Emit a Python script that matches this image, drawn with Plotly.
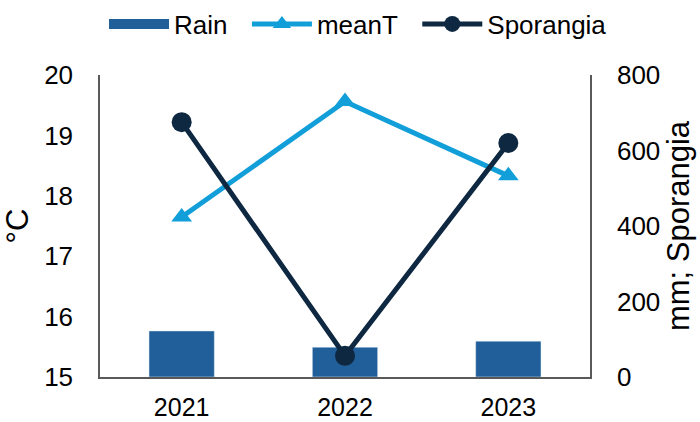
import plotly.graph_objects as go

years = ["2021", "2022", "2023"]
rain = [122, 79, 95]
mean_t = [17.65, 19.56, 18.33]
sporangia = [675, 56, 620]

left_ticks = [15, 16, 17, 18, 19, 20]
right_ticks = [0, 200, 400, 600, 800]

FONT = "Liberation Sans, Arial, sans-serif"
C_RAIN = "#215F9A"
C_T = "#129FD9"
C_SP = "#0E2841"
AX = "#595959"
PAD = "\u00a0\u00a0"

fig = go.Figure()
fig.add_trace(go.Bar(x=years, y=rain, name="Rain", marker_color=C_RAIN,
                     yaxis="y2", width=0.4, showlegend=False))
# legend-only entry for Rain (wide rectangle symbol)
fig.add_trace(go.Scatter(x=[None], y=[None], name="Rain" + PAD, mode="lines",
                         line=dict(color=C_RAIN, width=14), yaxis="y2"))
fig.add_trace(go.Scatter(x=years, y=mean_t, name="meanT" + PAD, mode="lines+markers",
                         line=dict(color=C_T, width=5),
                         marker=dict(symbol="triangle-up", size=18, color=C_T)))
fig.add_trace(go.Scatter(x=years, y=sporangia, name="Sporangia", mode="lines+markers",
                         yaxis="y2", line=dict(color=C_SP, width=5),
                         marker=dict(symbol="circle", size=20, color=C_SP)))

fig.update_layout(
    width=700, height=422,
    margin=dict(l=100, r=110, t=75, b=45, autoexpand=False),
    paper_bgcolor="white", plot_bgcolor="white",
    font=dict(family=FONT, size=26, color="black"),
    showlegend=True,
    legend=dict(orientation="h", x=(612 - 100) / 490, xanchor="right",
                y=(377 - 24) / 302, yanchor="middle",
                font=dict(size=26), traceorder="normal", itemwidth=60,
                tracegroupgap=0),
    xaxis=dict(range=[-0.5, 2.5], showline=True, linecolor=AX, linewidth=1.5,
               ticks="", showgrid=False, zeroline=False, type="category",
               ticklabelstandoff=7, automargin=False, tickfont=dict(size=25)),
    yaxis=dict(range=[15, 20], tickvals=left_ticks, showline=True, linecolor=AX,
               linewidth=1.5, ticks="", showgrid=False, zeroline=False,
               ticklabelstandoff=20, automargin=False,
               title=dict(text="°C", standoff=12)),
    yaxis2=dict(range=[0, 800], tickvals=right_ticks, overlaying="y", side="right",
                showline=True, linecolor=AX, linewidth=1.5, ticks="",
                showgrid=False, zeroline=False, ticklabelstandoff=20,
                automargin=False,
                title=dict(text="mm; Sporangia", standoff=8)),
)

fig.write_html("out.html")
